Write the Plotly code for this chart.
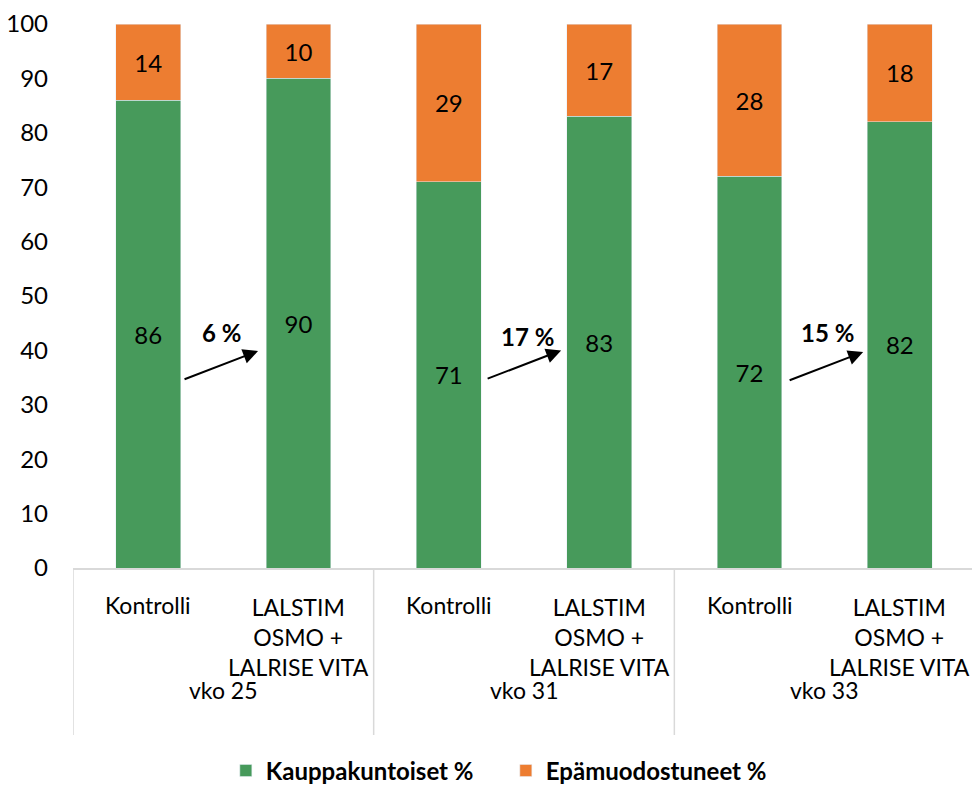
import plotly.graph_objects as go

weeks = ["vko 25", "vko 25", "vko 31", "vko 31", "vko 33", "vko 33"]
treatments = ["Kontrolli", "LALSTIM<br>OSMO +<br>LALRISE VITA"] * 3
week_labels = ["vko 25", "vko 31", "vko 33"]
kauppakuntoiset = [86, 90, 71, 83, 72, 82]
epamuodostuneet = [14, 10, 29, 17, 28, 18]
changes = ["6 %", "17 %", "15 %"]
y_ticks = list(range(0, 101, 10))

GREEN = "#479A5B"
ORANGE = "#ED7D31"
GRID = "#D9D9D9"
FONT = "Lato"

fig = go.Figure()
fig.add_trace(go.Bar(
    x=[weeks, treatments], y=kauppakuntoiset, name="Kauppakuntoiset %",
    marker_color=GREEN, text=kauppakuntoiset, textposition="inside",
    insidetextanchor="middle", textfont=dict(color="black", size=24, family=FONT),
))
fig.add_trace(go.Bar(
    x=[weeks, treatments], y=epamuodostuneet, name="Epämuodostuneet %",
    marker_color=ORANGE, text=epamuodostuneet, textposition="inside",
    insidetextanchor="middle", textfont=dict(color="black", size=24, family=FONT),
))

# arrows (start x, start y, end x, end y) and label positions, in axis units
arrow_pos = [(0.232, 34.6, 0.731, 39.9), (2.248, 34.7, 2.747, 40.0), (4.257, 34.4, 4.756, 39.7)]
label_pos = [(0.491, 43.2), (2.52, 42.6), (4.517, 43.2)]
for (x0, y0, x1, y1), (lx, ly), txt in zip(arrow_pos, label_pos, changes):
    fig.add_annotation(x=x1, y=y1, ax=x0, ay=y0, xref="x", yref="y", axref="x", ayref="y",
                       showarrow=True, arrowhead=2, arrowsize=1.5, arrowwidth=2,
                       arrowcolor="black", text="")
    fig.add_annotation(x=lx, y=ly, xref="x", yref="y", showarrow=False, text="<b>" + txt + "</b>",
                       font=dict(size=24, family=FONT, color="black"))

# category labels (first level) and group labels (second level)
for i, t in enumerate(treatments):
    n_lines = t.count("<br>") + 1
    fig.add_annotation(x=i, y=-0.068 if n_lines == 1 else -0.127, xref="x", yref="paper",
                       yanchor="middle", showarrow=False, text=t,
                       font=dict(size=23, family=FONT, color="black"))
for g, w in enumerate(week_labels):
    fig.add_annotation(x=2 * g + 0.5, y=-0.224, xref="x", yref="paper", yanchor="middle",
                       showarrow=False, text=w, font=dict(size=23, family=FONT, color="black"))
# group dividers
for xd in [-0.5, 1.5, 3.5, 5.5]:
    fig.add_shape(type="line", x0=xd, x1=xd, y0=0, y1=-0.307, xref="x", yref="paper",
                  line=dict(color=GRID, width=1.5))

fig.update_layout(
    width=972, height=785,
    margin=dict(l=73, r=0, t=24, b=217, autoexpand=False),
    barmode="stack", bargap=0.568,
    plot_bgcolor="white", paper_bgcolor="white",
    font=dict(family=FONT, size=24, color="black"),
    legend=dict(orientation="h", x=0.17, xanchor="left", y=-0.373, yanchor="middle",
                font=dict(size=24, family=FONT, color="black", weight="bold"),
                traceorder="normal", itemwidth=30, entrywidth=235, entrywidthmode="pixels"),
)
fig.update_yaxes(range=[0, 100], tickvals=y_ticks, showgrid=False, zeroline=False,
                 showline=False, ticks="", ticklabelstandoff=24, automargin=False,
                 tickfont=dict(size=24, family=FONT, color="black"))
fig.update_xaxes(type="multicategory", range=[-0.5, 5.48], showline=True, linecolor=GRID,
                 linewidth=1.5, showdividers=False, showticklabels=False, ticks="",
                 automargin=False)

fig.write_html("out.html", config={"displayModeBar": False},
               post_script="document.body.style.margin='0';document.body.style.overflow='hidden';")
